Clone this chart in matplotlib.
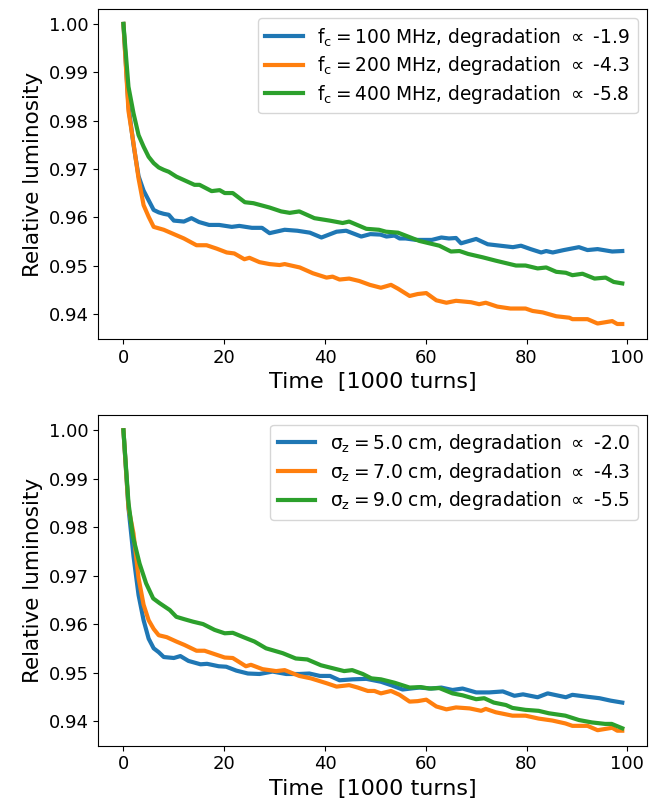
"""
Relative luminosity degradation vs time, for three cut-off frequencies
(top) and three bunch lengths (bottom).  Saves out.png.
"""

import matplotlib
matplotlib.use("Agg")
import matplotlib.pyplot as plt

plt.rcParams["mathtext.default"] = "regular"

# ─────────────────────────────────────────────────────────────────────────────
# Data
# ─────────────────────────────────────────────────────────────────────────────

# top panel: cut-off frequency scan
t_100mhz = [0, 1, 2, 3, 4, 5, 6, 7, 8, 9, 10, 12, 13.5, 15, 17, 19, 21.5, 23,
            25.5, 27.5, 29, 32, 34.5, 37, 39.3, 42.3, 44.2, 47.2, 49, 51, 52.2,
            53.8, 54.8, 56, 58.1, 61.2, 63.1, 64.6, 66, 67, 70, 72.3, 77.3,
            78.9, 80.8, 82.9, 83.9, 85.2, 87.4, 90.4, 92.1, 94.1, 97, 99]
lumi_100mhz = [1.0, 0.983, 0.975, 0.9685, 0.9655, 0.9635, 0.9615, 0.961, 0.9607,
               0.9605, 0.9593, 0.9591, 0.9598, 0.959, 0.9584, 0.9584, 0.958,
               0.9582, 0.9578, 0.9578, 0.9567, 0.9574, 0.9572, 0.9568, 0.9558,
               0.957, 0.9572, 0.956, 0.9565, 0.9564, 0.956, 0.9562, 0.9556,
               0.9556, 0.9553, 0.9553, 0.9558, 0.9556, 0.9557, 0.9546, 0.9555,
               0.9544, 0.9538, 0.9541, 0.9534, 0.9527, 0.953, 0.9527, 0.9532,
               0.9538, 0.9532, 0.9534, 0.9529, 0.953]

t_200mhz = [0, 1, 2, 3, 4, 5, 6, 7, 8, 10, 12, 14.5, 16.5, 18.5, 20.5, 22, 24,
            25, 27, 29, 31, 32, 35, 37.6, 40.3, 41.5, 42.9, 44.8, 46.8, 48.9,
            51.1, 53.1, 54.5, 56.8, 58.4, 60.1, 62.1, 64.1, 66, 69, 70.6, 71.9,
            74.2, 76.8, 79.8, 81.2, 83.2, 85.9, 88.5, 89.1, 92.1, 94.1, 97, 98,
            99]
lumi_200mhz = [1.0, 0.982, 0.9753, 0.968, 0.9625, 0.9601, 0.958, 0.9577, 0.9574,
               0.9565, 0.9556, 0.9542, 0.9542, 0.9535, 0.9527, 0.9525, 0.9513,
               0.9516, 0.9507, 0.9503, 0.9501, 0.9503, 0.9496, 0.9484, 0.9475,
               0.9477, 0.9471, 0.9473, 0.9468, 0.946, 0.9454, 0.946, 0.9452,
               0.9437, 0.9441, 0.9443, 0.9428, 0.9423, 0.9427, 0.9424, 0.942,
               0.9423, 0.9415, 0.9411, 0.9411, 0.9406, 0.9403, 0.9395, 0.9392,
               0.9389, 0.9389, 0.938, 0.9385, 0.9379, 0.9379]

t_400mhz = [0, 1, 2, 3, 4, 5, 6, 7, 8, 9, 10.5, 14.1, 15.1, 17.5, 19.1, 20.1,
            21.7, 24.1, 25.8, 29, 31.3, 33, 34.9, 37.9, 40.9, 43.5, 44.8, 48.2,
            50.7, 52.1, 54.5, 58.7, 62.7, 65, 66.7, 68.4, 71.3, 73.9, 77.9,
            79.8, 82.2, 83.9, 85.9, 87.8, 89.1, 91.1, 93.5, 95.7, 97.3, 99]
lumi_400mhz = [1.0, 0.987, 0.9815, 0.977, 0.9746, 0.9725, 0.9712, 0.9703,
               0.9698, 0.9694, 0.9684, 0.9667, 0.9667, 0.9654, 0.9656, 0.965,
               0.965, 0.9631, 0.9629, 0.962, 0.9612, 0.9609, 0.9612, 0.9598,
               0.9593, 0.9588, 0.9591, 0.9576, 0.9574, 0.957, 0.9568, 0.9551,
               0.9541, 0.9529, 0.953, 0.9524, 0.9517, 0.951, 0.95, 0.95, 0.9494,
               0.9496, 0.9487, 0.9485, 0.948, 0.9483, 0.9473, 0.9475, 0.9466,
               0.9463]

# bottom panel: bunch length scan
t_5cm = [0, 1, 2, 3, 4, 5, 6, 7, 8, 10, 11.3, 12.9, 15.3, 16.6, 18.9, 20.4,
         22.4, 24.7, 27, 29.6, 32.3, 34.9, 36.9, 39, 41, 42.9, 45.5, 48.2, 51.1,
         53.1, 55.4, 58.7, 61.1, 63.1, 65.3, 67.3, 70, 72.6, 75.3, 77.6, 79.3,
         82.2, 84.2, 87.8, 89.1, 92.1, 94.5, 96.7, 99]
lumi_5cm = [1.0, 0.984, 0.974, 0.966, 0.9608, 0.957, 0.955, 0.9542, 0.9532,
            0.953, 0.9534, 0.9524, 0.9517, 0.9518, 0.9513, 0.9512, 0.9504,
            0.9498, 0.9497, 0.9502, 0.9497, 0.9497, 0.9498, 0.9493, 0.9493,
            0.9484, 0.9486, 0.9487, 0.9481, 0.9474, 0.9465, 0.9469, 0.9467,
            0.9469, 0.9464, 0.9467, 0.9459, 0.9459, 0.9461, 0.9452, 0.9455,
            0.9449, 0.9457, 0.9449, 0.9454, 0.945, 0.9447, 0.9442, 0.9438]

t_7cm = [0, 1, 2, 3, 4, 5, 6, 7, 8.6, 10.5, 12.1, 14.5, 16.1, 18.1, 20.1, 21.7,
         24.3, 25.3, 27.6, 30.3, 32, 34.9, 37.2, 40.3, 42.3, 44.8, 46.5, 48.5,
         49.8, 51.1, 53.1, 54.8, 56.8, 58.4, 60.1, 62.1, 64.1, 66, 68.7, 71,
         71.9, 73.9, 77.2, 79.8, 82.4, 85.1, 87.7, 89.1, 92.1, 94.1, 97, 98, 99]
lumi_7cm = [1.0, 0.984, 0.9787, 0.9695, 0.964, 0.9608, 0.959, 0.9577, 0.9573,
            0.9564, 0.9557, 0.9545, 0.9545, 0.9538, 0.9531, 0.953, 0.9513,
            0.9516, 0.9507, 0.9503, 0.9505, 0.9493, 0.9488, 0.9478, 0.9471,
            0.9474, 0.9469, 0.9462, 0.9462, 0.9457, 0.9462, 0.9454, 0.944,
            0.9441, 0.9444, 0.943, 0.9424, 0.9428, 0.9426, 0.9421, 0.9425,
            0.9418, 0.9411, 0.9411, 0.9405, 0.9401, 0.9395, 0.939, 0.939,
            0.9381, 0.9386, 0.938, 0.938]

t_9cm = [0, 1, 1.9, 3.2, 4.5, 5.9, 7.2, 9.2, 10.5, 12.1, 13.8, 15.8, 18.1, 20.1,
         21.7, 24.3, 26, 28.3, 31.6, 34.2, 36.5, 39.2, 41.5, 43.8, 45.4, 47.5,
         49.2, 51.1, 53.8, 56.8, 59, 60.7, 62.7, 65.3, 67.3, 70, 71.6, 73.5,
         75.9, 77.2, 79.8, 82.4, 84.4, 87.7, 90.4, 93, 95.6, 96.9, 99]
lumi_9cm = [1.0, 0.985, 0.978, 0.9725, 0.9684, 0.9653, 0.9643, 0.9629, 0.9615,
            0.961, 0.9605, 0.96, 0.9588, 0.9581, 0.9582, 0.9571, 0.9564, 0.955,
            0.954, 0.9529, 0.9527, 0.9515, 0.9509, 0.9503, 0.9505, 0.9497,
            0.9488, 0.9486, 0.9479, 0.9469, 0.947, 0.9467, 0.9468, 0.9457,
            0.9453, 0.9445, 0.9447, 0.9438, 0.9433, 0.9427, 0.9423, 0.9421,
            0.9416, 0.9411, 0.9402, 0.9397, 0.9394, 0.9394, 0.9385]

labels_fc = [r"$f_c = 100$ MHz, degradation $\propto$ -1.9",
             r"$f_c = 200$ MHz, degradation $\propto$ -4.3",
             r"$f_c = 400$ MHz, degradation $\propto$ -5.8"]
labels_sz = [r"$\sigma_z = 5.0$ cm, degradation $\propto$ -2.0",
             r"$\sigma_z = 7.0$ cm, degradation $\propto$ -4.3",
             r"$\sigma_z = 9.0$ cm, degradation $\propto$ -5.5"]


# ─────────────────────────────────────────────────────────────────────────────
# Plot
# ─────────────────────────────────────────────────────────────────────────────

def draw_panel(ax, series, labels):
    for (t, lumi), label in zip(series, labels):
        ax.plot(t, lumi, lw=3, label=label)
    ax.set_xlabel("Time  [1000 turns]", fontsize=16)
    ax.set_ylabel("Relative luminosity", fontsize=15.5)
    ax.set_yticks([0.94, 0.95, 0.96, 0.97, 0.98, 0.99, 1.00])
    ax.set_xticks([0, 20, 40, 60, 80, 100])
    ax.tick_params(labelsize=13)
    ax.legend(loc="upper right", fontsize=13.4, labelspacing=0.3)


fig = plt.figure(figsize=(6.7, 8.11), dpi=100)
ax1 = fig.add_axes([0.147, 0.582, 0.819, 0.407])
ax2 = fig.add_axes([0.147, 0.0805, 0.819, 0.4075])

draw_panel(ax1, [(t_100mhz, lumi_100mhz), (t_200mhz, lumi_200mhz),
                 (t_400mhz, lumi_400mhz)], labels_fc)
draw_panel(ax2, [(t_5cm, lumi_5cm), (t_7cm, lumi_7cm),
                 (t_9cm, lumi_9cm)], labels_sz)

fig.savefig("out.png", dpi=100)
plt.close(fig)
